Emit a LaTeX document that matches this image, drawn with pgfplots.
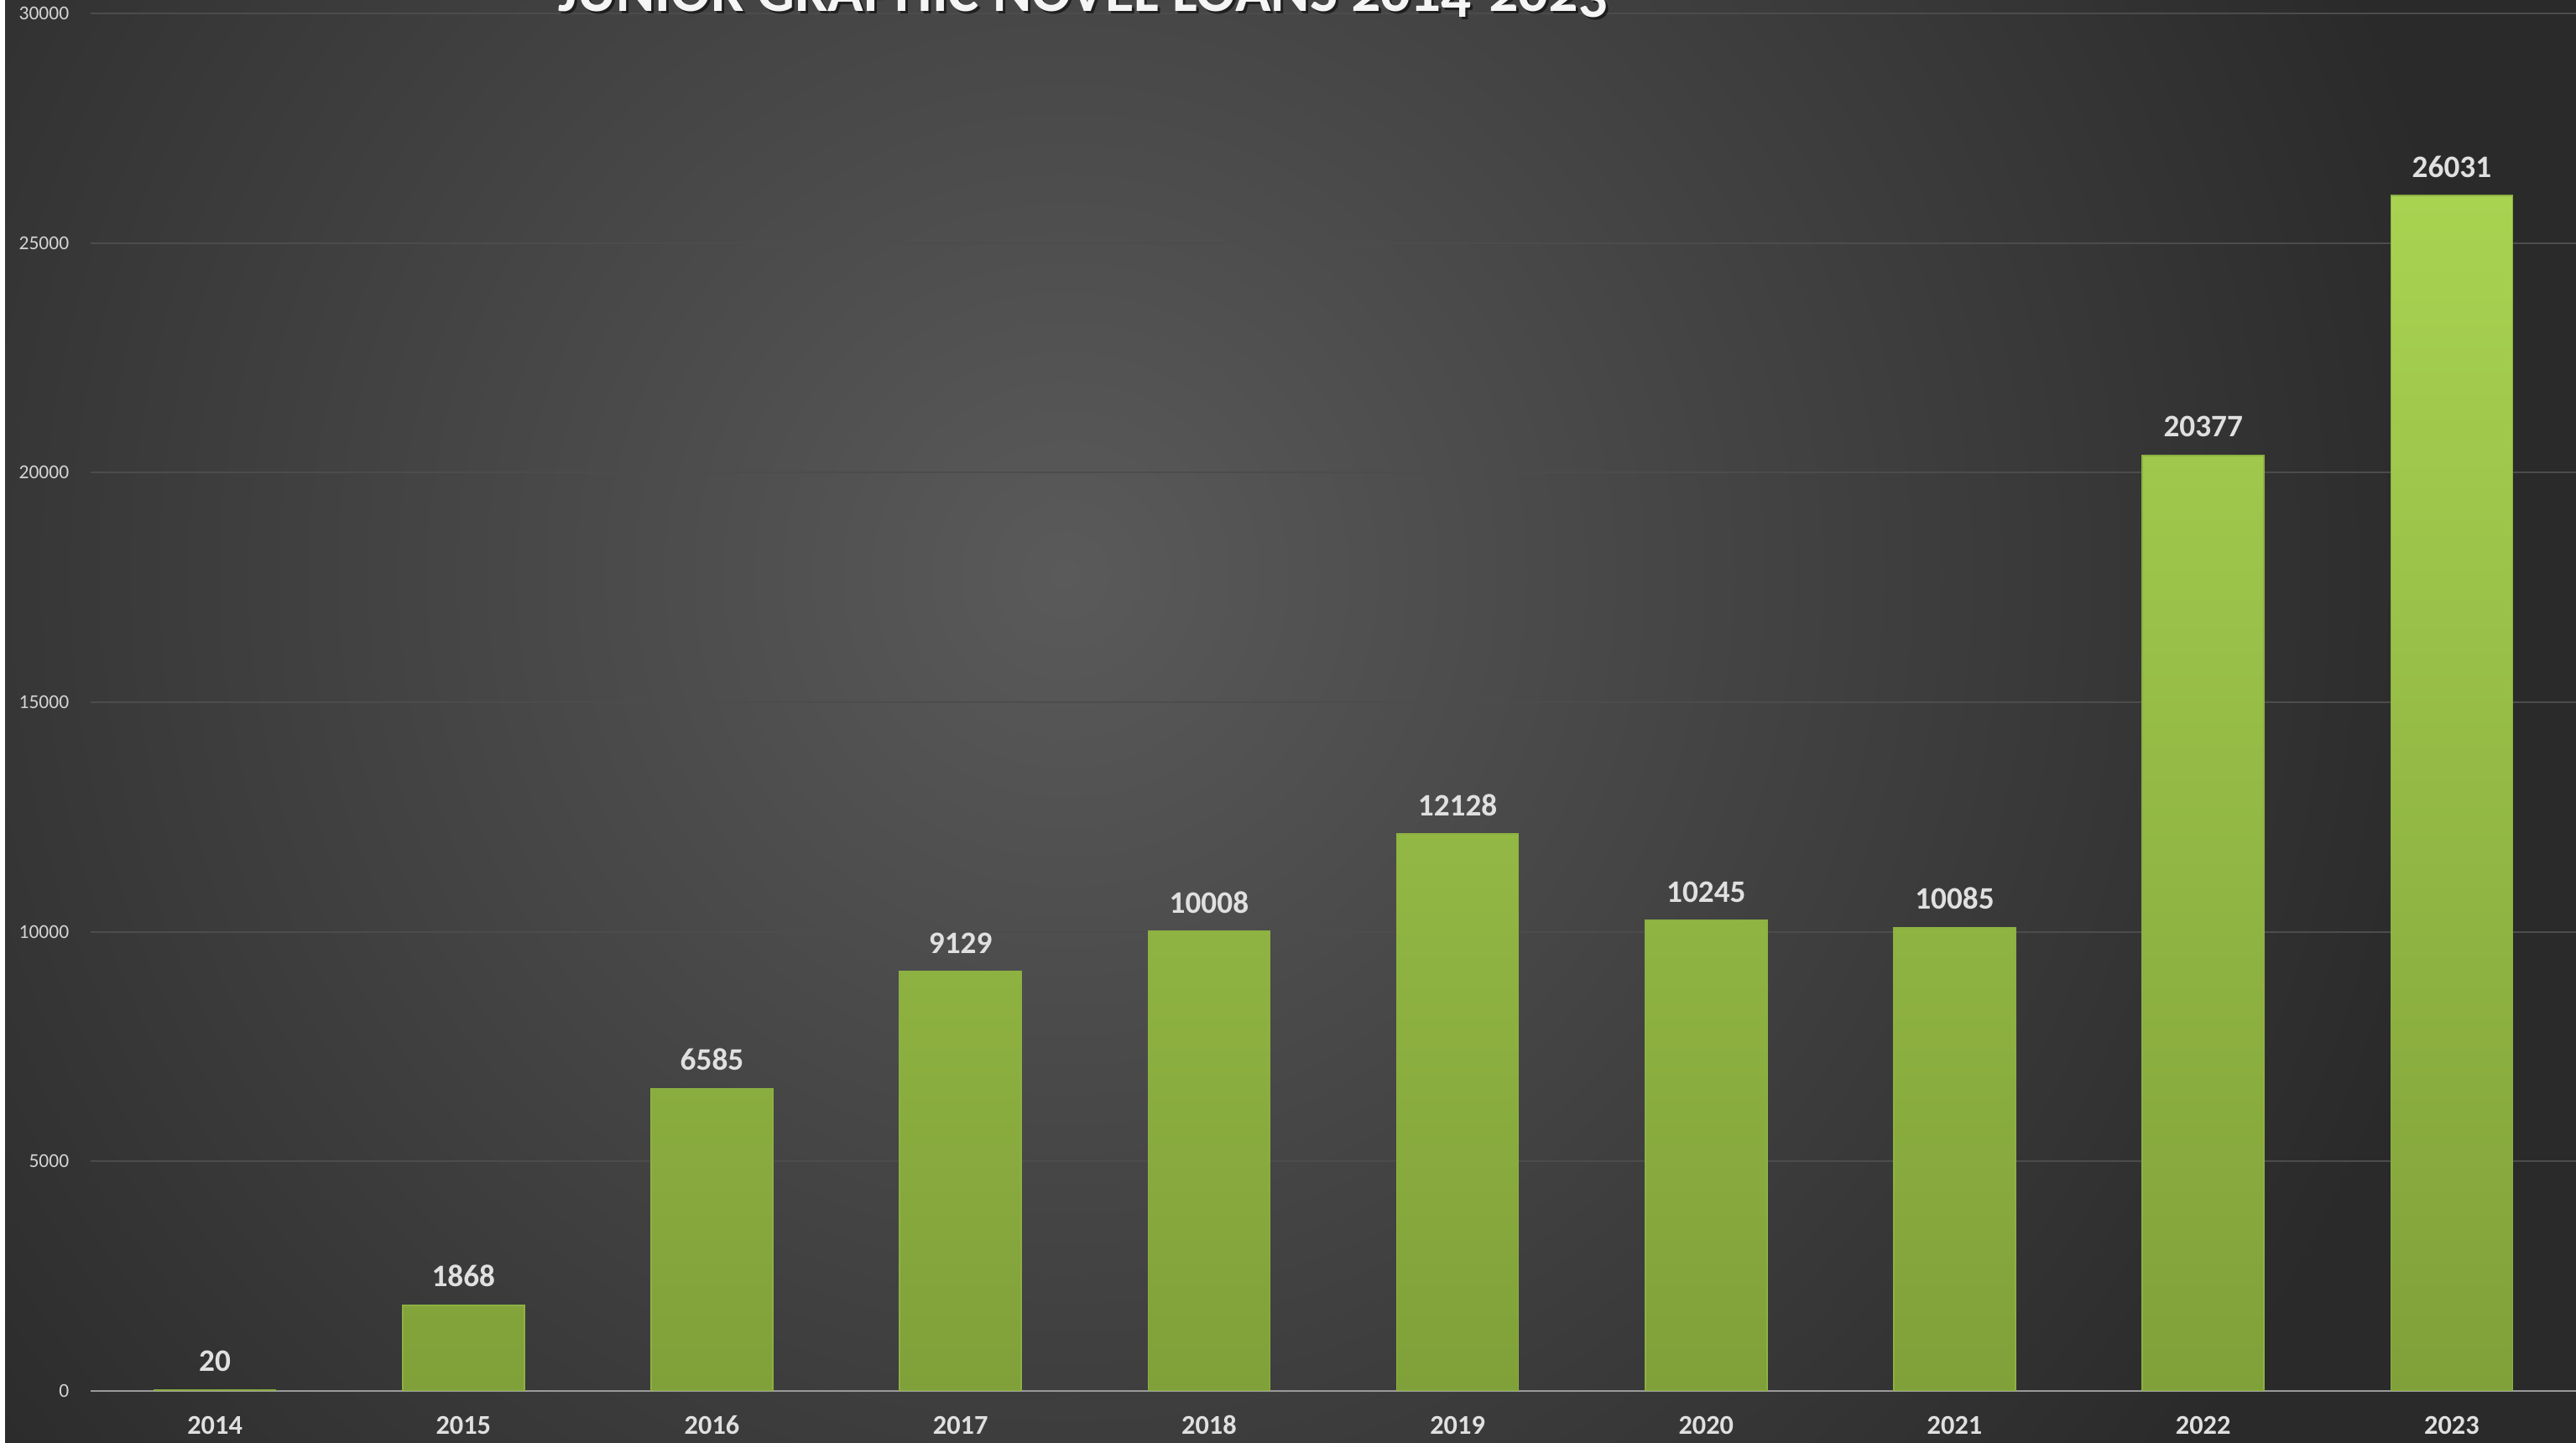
\documentclass[border=0pt]{standalone}
\usepackage{fontspec}
\setmainfont{Carlito}
\newfontfamily\titlefont[Numbers=OldStyle]{Carlito}
\usepackage{pgfplots}
\pgfplotsset{compat=1.18}

\definecolor{bgout}{HTML}{2A2A2A}
\definecolor{bgin}{HTML}{5A5A5A}
\definecolor{bartop}{HTML}{A8D351}
\definecolor{barmid}{HTML}{9DC74B}
\definecolor{barbot}{HTML}{80A039}
\definecolor{baredge}{HTML}{8CB142}
\definecolor{gridc}{HTML}{4C4C4C}
\definecolor{axisc}{HTML}{9A9A9A}
\definecolor{lbl}{HTML}{E0E0E0}
\definecolor{ylbl}{HTML}{D4D4D4}

\begin{document}
\begin{tikzpicture}
% background
\fill[bgout] (0,0) rectangle (30.7,17.2);
\begin{scope}
  \clip (0,0) rectangle (30.7,17.2);
  \shade[inner color=bgin, outer color=bgout] (12.7,10.35) circle (17cm);
\end{scope}
\fill[white] (0,0) rectangle (0.06,17.2);

\begin{axis}[
    at={(1.08cm,0.62cm)}, anchor=south west,
    scale only axis,
    width=29.62cm, height=16.42cm,
    xmin=-0.5, xmax=9.5,
    ymin=0, ymax=30000,
    xtick=data,
    xticklabels={2014,2015,2016,2017,2018,2019,2020,2021,2022,2023},
    ytick={0,5000,...,30000},
    scaled y ticks=false,
    /pgf/number format/.cd, 1000 sep={}, assume math mode=true,
    /pgfplots/.cd,
    axis x line*=bottom,
    axis y line*=left,
    x axis line style={draw=axisc, line width=0.85pt, -},
    y axis line style={draw=none},
    major tick length=0pt,
    ymajorgrids,
    grid style={draw=gridc, line width=0.6pt},
    xticklabel style={font=\bfseries\fontsize{9.2}{10}\selectfont, text=lbl, anchor=base, inner sep=0pt, yshift=-0.52cm},
    yticklabel style={font=\fontsize{6.7}{8}\selectfont, text=ylbl, anchor=east, inner sep=0pt, xshift=-0.25cm},
    nodes near coords,
    every node near coord/.append style={font=\bfseries\fontsize{10.6}{12}\selectfont, text=lbl, anchor=south, inner sep=0pt, yshift=0.21cm},
]
\addplot[ybar, bar width=1.45cm, draw=baredge, line width=0.5pt,
         top color=bartop, middle color=barmid, bottom color=barbot]
  coordinates {(0,20) (1,1868) (2,6585) (3,9129) (4,10008) (5,12128)
               (6,10245) (7,10085) (8,20377) (9,26031)};
\end{axis}

% title, cut off by the top edge as in the original
\node[anchor=base, text=black, opacity=0.55, inner sep=0pt] at (12.94,17.03)
  {\titlefont\bfseries\fontsize{20}{20}\selectfont JUNIOR GRAPHIC NOVEL LOANS 2014-2023};
\node[anchor=base, text=white!96!black, inner sep=0pt] at (12.91,17.06)
  {\titlefont\bfseries\fontsize{20}{20}\selectfont JUNIOR GRAPHIC NOVEL LOANS 2014-2023};

\pgfresetboundingbox
\path[use as bounding box] (0,0) rectangle (30.7,17.2);
\end{tikzpicture}
\end{document}
